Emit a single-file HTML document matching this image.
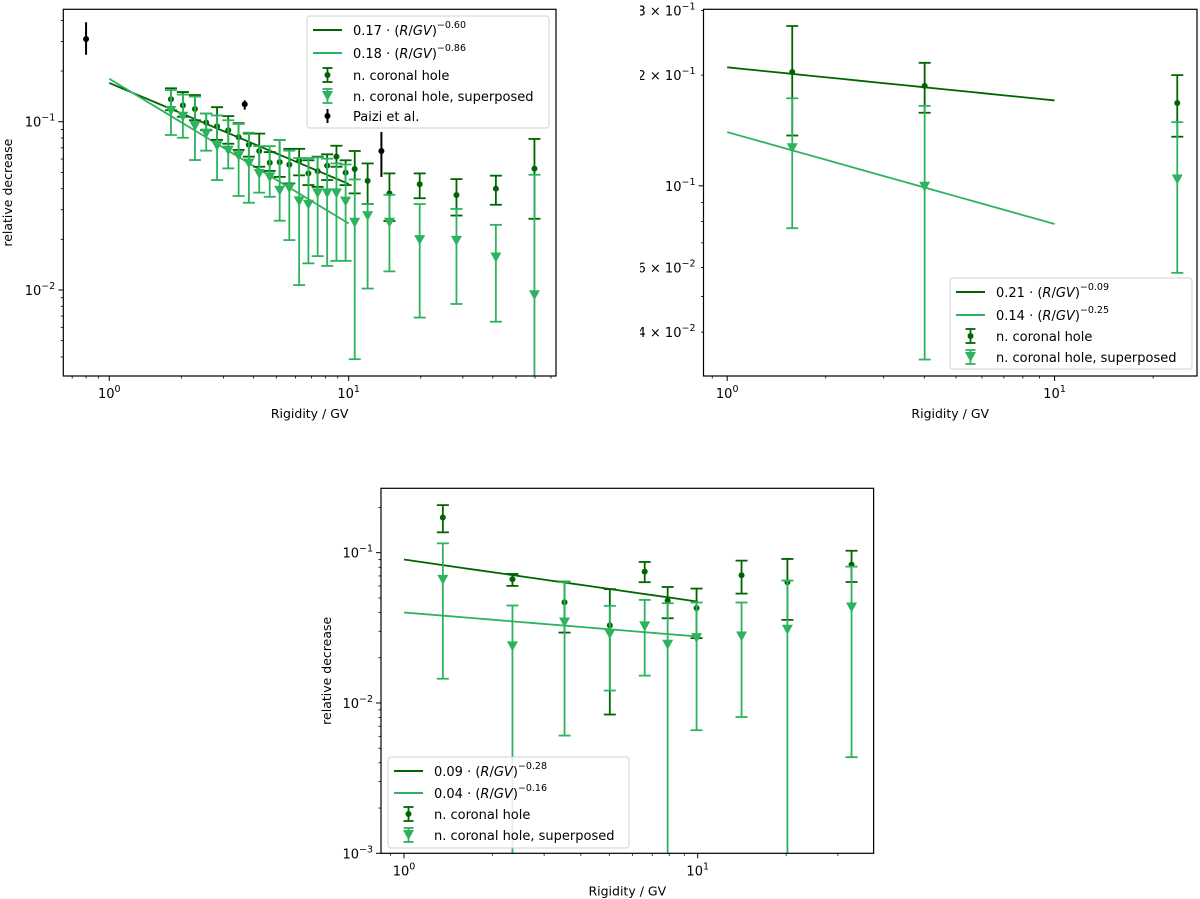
<!DOCTYPE html>
<html><head><meta charset="utf-8"><style>
html,body{margin:0;padding:0;background:#fff;}
svg{display:block;font-family:"DejaVu Sans","Liberation Sans",sans-serif;}
</style></head><body>
<svg id="fig" width="1200" height="899" viewBox="0 0 1200 899" xmlns="http://www.w3.org/2000/svg"></svg>
<script>
// ---------- Panel 1 data ----------
const p1X=[1.81,2.03,2.28,2.54,2.82,3.14,3.47,3.83,4.23,4.68,5.15,5.65,6.21,6.79,7.42,8.13,8.89,9.71,10.6,12.0,14.8,19.8,28.2,41.2,59.7];
const p1Dark=[0.136,0.125,0.119,0.099,0.094,0.089,0.081,0.073,0.067,0.057,0.0575,0.0556,0.0586,0.0493,0.0509,0.0548,0.062,0.0498,0.0524,0.0445,0.0375,0.0425,0.0367,0.040,0.0526];
const p1DarkHi=[0.158,0.150,0.144,0.112,0.122,0.108,0.098,0.085,0.085,0.066,0.078,0.069,0.069,0.059,0.062,0.064,0.072,0.059,0.067,0.0565,0.0493,0.0493,0.0456,0.0478,0.079];
const p1DarkLo=[0.117,0.107,0.102,0.089,0.078,0.074,0.068,0.062,0.054,0.051,0.047,0.043,0.048,0.042,0.041,0.045,0.054,0.042,0.0375,0.0324,0.0257,0.0351,0.0277,0.0321,0.0265];
const p1Light=[0.116,0.107,0.094,0.085,0.0716,0.0673,0.0625,0.0565,0.0489,0.0467,0.0389,0.0402,0.0336,0.0321,0.0375,0.0375,0.0375,0.0335,0.0251,0.0275,0.0251,0.0198,0.0196,0.0156,0.0093];
const p1LightHi=[0.154,0.145,0.141,0.112,0.109,0.102,0.097,0.086,0.0716,0.0716,0.078,0.0673,0.0608,0.0608,0.0614,0.0603,0.0565,0.0557,0.0454,0.0324,0.0368,0.0324,0.0303,0.0244,0.0484];
const p1LightLo=[0.0834,0.0803,0.0592,0.0673,0.045,0.0528,0.0362,0.033,0.0379,0.0358,0.0258,0.0198,0.0107,0.0144,0.0159,0.0139,0.0149,0.0149,0.00388,0.0102,0.0129,0.00686,0.00826,0.00648,0.0005];
const p1PaiziX=[0.80,3.68,13.7];
const p1PaiziY=[0.31,0.127,0.067];
const p1PaiziHi=[0.39,0.134,0.087];
const p1PaiziLo=[0.25,0.118,0.047];
const p1Fit=[[0.17,-0.60],[0.18,-0.86]];
const p1FitLabels=[["0.17","−0.60"],["0.18","−0.86"]];
// ---------- Panel 2 data ----------
const p2X=[1.58,4.01,23.7];
const p2Dark=[0.204,0.187,0.168];
const p2DarkHi=[0.272,0.216,0.200];
const p2DarkLo=[0.137,0.158,0.136];
const p2Light=[0.1265,0.0994,0.104];
const p2LightHi=[0.173,0.165,0.149];
const p2LightLo=[0.0767,0.0337,0.058];
const p2Fit=[[0.21,-0.09],[0.14,-0.25]];
const p2FitLabels=[["0.21","−0.09"],["0.14","−0.25"]];
// ---------- Panel 3 data ----------
const p3X=[1.356,2.34,3.52,5.02,6.60,7.90,9.91,14.1,20.2,33.4];
const p3Dark=[0.1715,0.0665,0.0468,0.0328,0.0748,0.048,0.0428,0.0708,0.0636,0.0832];
const p3DarkHi=[0.207,0.0722,0.0642,0.0572,0.0867,0.0591,0.0577,0.0885,0.0908,0.103];
const p3DarkLo=[0.1365,0.0601,0.0294,0.00838,0.0636,0.0366,0.027,0.0534,0.0357,0.0638];
const p3Light=[0.0659,0.0238,0.0343,0.0287,0.0323,0.0244,0.027,0.0277,0.0307,0.0432];
const p3LightHi=[0.1153,0.0445,0.0636,0.0443,0.0485,0.0461,0.0466,0.0466,0.0652,0.0807];
const p3LightLo=[0.0145,0.0005,0.00607,0.0121,0.0152,0.0005,0.00659,0.00807,0.0005,0.00436];
const p3Fit=[[0.09,-0.28],[0.04,-0.16]];
const p3FitLabels=[["0.09","−0.28"],["0.04","−0.16"]];

const DARK="#006400", LIGHT="#2db35d";
const NS="http://www.w3.org/2000/svg";
const fig=document.getElementById('fig');
function el(tag,attrs,parent){const e=document.createElementNS(NS,tag);for(const k in attrs)e.setAttribute(k,attrs[k]);(parent||fig).appendChild(e);return e;}

function panel(cfg,idx){
  const g=el('g',{});
  
  
  const lx0=Math.log10(cfg.xmin), lx1=Math.log10(cfg.xmax), ly0=Math.log10(cfg.ymin), ly1=Math.log10(cfg.ymax);
  const sx=v=>cfg.L+(Math.log10(v)-lx0)/(lx1-lx0)*(cfg.R-cfg.L);
  const sy=v=>cfg.B-(Math.log10(v)-ly0)/(ly1-ly0)*(cfg.B-cfg.T);
  const cid='clip'+idx;
  const cp=el('clipPath',{id:cid},g); el('rect',{x:cfg.L,y:cfg.T,width:cfg.R-cfg.L,height:cfg.B-cfg.T},cp);
  const plot=el('g',{'clip-path':'url(#'+cid+')'},g);
  
  
  // fits
  cfg.fit.forEach((f,i)=>{
    const pts=[];for(let k=0;k<=20;k++){const x=Math.pow(10,k/20);pts.push(sx(x)+','+sy(f[0]*Math.pow(x,f[1])));}
    const pl=el('polyline',{points:pts.join(' '),fill:'none',stroke:i==0?DARK:LIGHT,'stroke-width':1.8},plot);
    
    
  });
  function series(xs,ys,hi,lo,color,marker,name){
    const sg=el('g',{},plot);
    
    
    xs.forEach((x,i)=>{
      const X=sx(x),Y=sy(ys[i]),Yh=sy(hi[i]),Yl=sy(lo[i]);
      el('line',{x1:X,x2:X,y1:Yh,y2:Yl,stroke:color,'stroke-width':1.8},sg);
      el('line',{x1:X-6,x2:X+6,y1:Yh,y2:Yh,stroke:color,'stroke-width':1.8},sg);
      el('line',{x1:X-6,x2:X+6,y1:Yl,y2:Yl,stroke:color,'stroke-width':1.8},sg);
      let m;
      if(marker=='tri') m=el('path',{d:`M${X-5.5},${Y-5} L${X+5.5},${Y-5} L${X},${Y+5} Z`,fill:color},sg);
      else m=el('circle',{cx:X,cy:Y,r:3,fill:color},sg);
      
      
    });
  }
  series(cfg.x,cfg.dark,cfg.darkHi,cfg.darkLo,DARK,'dot','series-coronal-hole');
  series(cfg.x,cfg.light,cfg.lightHi,cfg.lightLo,LIGHT,'tri','series-superposed');
  if(cfg.paizi){
    const pg=el('g',{},plot);
    
    
    cfg.paizi.x.forEach((x,i)=>{
      const X=sx(x);
      el('line',{x1:X,x2:X,y1:sy(cfg.paizi.hi[i]),y2:sy(cfg.paizi.lo[i]),stroke:'#000','stroke-width':2},pg);
      el('circle',{cx:X,cy:sy(cfg.paizi.y[i]),r:3,fill:'#000'},pg);
    });
  }
  // frame
  const fr=el('rect',{x:cfg.L,y:cfg.T,width:cfg.R-cfg.L,height:cfg.B-cfg.T,fill:'none',stroke:'#000','stroke-width':1.2},g);
  
  
  // ticks
  for(let d=Math.floor(lx0);d<=Math.ceil(lx1);d++)for(let m=1;m<10;m++){const v=m*Math.pow(10,d);if(v<cfg.xmin||v>cfg.xmax)continue;const X=sx(v);el('line',{x1:X,x2:X,y1:cfg.B,y2:cfg.B+(m==1?5:2.5),stroke:'#000','stroke-width':m==1?1:0.8},g);}
  for(let d=Math.floor(ly0);d<=Math.ceil(ly1);d++)for(let m=1;m<10;m++){const v=m*Math.pow(10,d);if(v<cfg.ymin*0.999||v>cfg.ymax*1.001)continue;const Y=sy(v);el('line',{x1:cfg.L,x2:cfg.L-(m==1?5:2.5),y1:Y,y2:Y,stroke:'#000','stroke-width':m==1?1:0.8},g);}
  cfg.xt.forEach(t=>{const tx=el('text',{x:sx(t[0]),y:cfg.B+22,'text-anchor':'middle','font-size':13},g);tx.innerHTML=t[1]+'<tspan dy="-6" font-size="9.5">'+t[2]+'</tspan>';
    });
  cfg.yt.forEach(t=>{const tx=el('text',{x:cfg.L-8,y:sy(t[0])+5,'text-anchor':'end','font-size':13},g);tx.innerHTML=t[1]+'<tspan dy="-6" font-size="9.5">'+t[2]+'</tspan>';
    });
  const xl=el('text',{x:(cfg.L+cfg.R)/2,y:cfg.B+42,'text-anchor':'middle','font-size':12.5},g);xl.textContent='Rigidity / GV';
  
  if(cfg.ylab){const yl=el('text',{x:cfg.ylab,y:(cfg.T+cfg.B)/2,'text-anchor':'middle','font-size':12.5,transform:`rotate(-90 ${cfg.ylab} ${(cfg.T+cfg.B)/2})`},g);yl.textContent='relative decrease';
    }
  // legend
  const lg=cfg.leg, lgG=el('g',{},g);
  
  
  el('rect',{x:lg.x0,y:lg.y0,width:lg.x1-lg.x0,height:lg.y1-lg.y0,rx:3,fill:'#fff','fill-opacity':0.85,stroke:'#d0d0d0'},lgG);
  const sx0=lg.x0+6, sx1=lg.x0+35, tx0=lg.x0+46, mid=(sx0+sx1)/2;
  const rows=lg.rows;
  cfg.fitLabels.forEach((fl,i)=>{const y=rows[i];el('line',{x1:sx0,x2:sx1,y1:y,y2:y,stroke:i==0?DARK:LIGHT,'stroke-width':2},lgG);
    const t=el('text',{x:tx0,y:y+5,'font-size':13},lgG);t.innerHTML=fl[0]+' · (<tspan font-style="italic">R</tspan>/<tspan font-style="italic">GV</tspan>)<tspan dy="-7" font-size="9.5">'+fl[1]+'</tspan>';
    });
  let y=rows[2];
  el('line',{x1:mid,x2:mid,y1:y-7,y2:y+7,stroke:DARK,'stroke-width':1.8},lgG);el('line',{x1:mid-5,x2:mid+5,y1:y-7,y2:y-7,stroke:DARK,'stroke-width':1.8},lgG);el('line',{x1:mid-5,x2:mid+5,y1:y+7,y2:y+7,stroke:DARK,'stroke-width':1.8},lgG);el('circle',{cx:mid,cy:y,r:3,fill:DARK},lgG);
  let t=el('text',{x:tx0,y:y+5,'font-size':13},lgG);t.textContent='n. coronal hole';
  y=rows[3];
  el('line',{x1:mid,x2:mid,y1:y-7,y2:y+7,stroke:LIGHT,'stroke-width':1.8},lgG);el('line',{x1:mid-5,x2:mid+5,y1:y-7,y2:y-7,stroke:LIGHT,'stroke-width':1.8},lgG);el('line',{x1:mid-5,x2:mid+5,y1:y+7,y2:y+7,stroke:LIGHT,'stroke-width':1.8},lgG);el('path',{d:`M${mid-5.5},${y-5} L${mid+5.5},${y-5} L${mid},${y+5} Z`,fill:LIGHT},lgG);
  t=el('text',{x:tx0,y:y+5,'font-size':13},lgG);t.textContent='n. coronal hole, superposed';
  if(rows[4]){y=rows[4];el('line',{x1:mid,x2:mid,y1:y-7,y2:y+7,stroke:'#000','stroke-width':2},lgG);el('circle',{cx:mid,cy:y,r:3,fill:'#000'},lgG);
    t=el('text',{x:tx0,y:y+5,'font-size':13},lgG);t.textContent='Paizi et al.';}
}

panel({L:63.3,R:556,T:9.3,B:376,xmin:Math.pow(10,-0.192),xmax:Math.pow(10,1.866),ymin:Math.pow(10,-2.511),ymax:Math.pow(10,-0.332),
  x:p1X,dark:p1Dark,darkHi:p1DarkHi,darkLo:p1DarkLo,light:p1Light,lightHi:p1LightHi,lightLo:p1LightLo,fit:p1Fit,fitLabels:p1FitLabels,
  paizi:{x:p1PaiziX,y:p1PaiziY,hi:p1PaiziHi,lo:p1PaiziLo},
  xt:[[1,'10','0'],[10,'10','1']],yt:[[0.1,'10','−1'],[0.01,'10','−2']],ylab:12,
  leg:{x0:307,x1:549,y0:16,y1:128,rows:[30,53,75,96,116]}},1);

panel({L:703.5,R:1197,T:9.3,B:376,xmin:Math.pow(10,-0.0724),xmax:Math.pow(10,1.435),ymin:0.0304,ymax:0.302,
  x:p2X,dark:p2Dark,darkHi:p2DarkHi,darkLo:p2DarkLo,light:p2Light,lightHi:p2LightHi,lightLo:p2LightLo,fit:p2Fit,fitLabels:p2FitLabels,
  xt:[[1,'10','0'],[10,'10','1']],yt:[[0.3,'3 × 10','−1'],[0.2,'2 × 10','−1'],[0.1,'10','−1'],[0.06,'6 × 10','−2'],[0.04,'4 × 10','−2']],ylab:null,
  leg:{x0:950,x1:1192,y0:278,y1:369,rows:[292,315,336,357]}},2);

panel({L:381,R:873.6,T:488.3,B:853.3,xmin:0.835,xmax:39.7,ymin:0.001,ymax:0.268,
  x:p3X,dark:p3Dark,darkHi:p3DarkHi,darkLo:p3DarkLo,light:p3Light,lightHi:p3LightHi,lightLo:p3LightLo,fit:p3Fit,fitLabels:p3FitLabels,
  xt:[[1,'10','0'],[10,'10','1']],yt:[[0.1,'10','−1'],[0.01,'10','−2'],[0.001,'10','−3']],ylab:331,
  leg:{x0:388,x1:629,y0:757,y1:848,rows:[771,793,814,835]}},3);

// white mask cropping left edge of panel 2 (as in the reference)
const mask=el('rect',{x:560,y:0,width:80,height:420,fill:'#fff'});


</script>
</body></html>
